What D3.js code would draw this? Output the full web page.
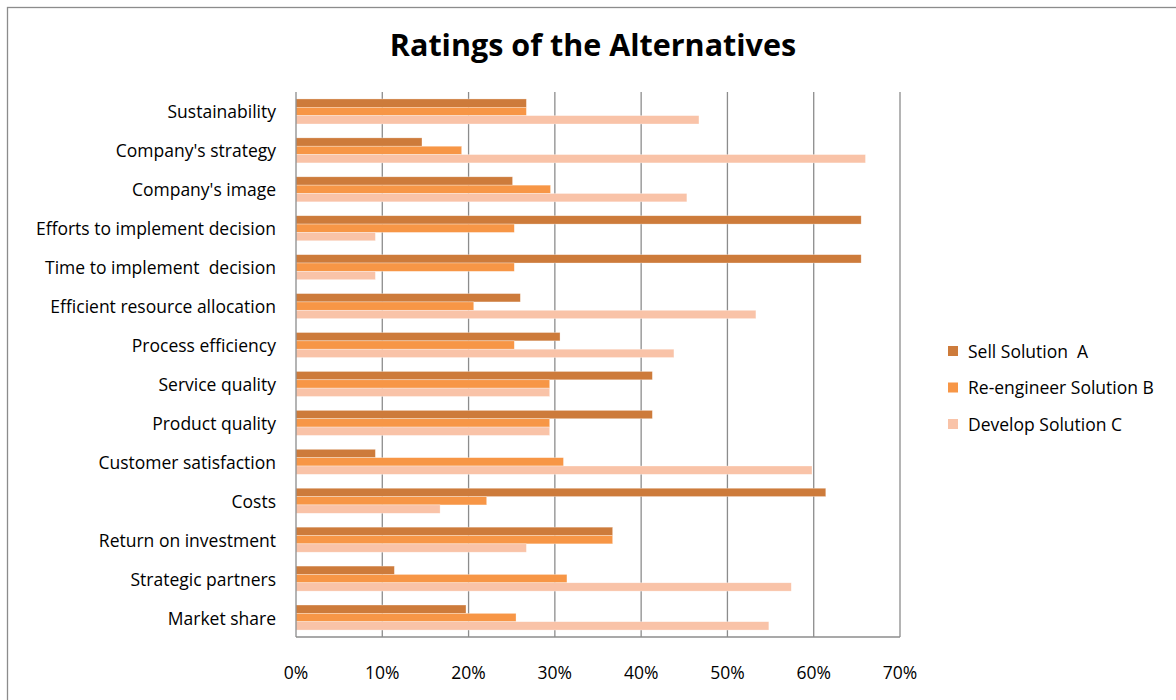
<!DOCTYPE html>
<html>
<head>
<meta charset="utf-8">
<script src="https://cdn.jsdelivr.net/npm/d3@7"></script>
<style>
  body { margin: 0; background: #fff; }
  text { font-family: "Open Sans", sans-serif; fill: #000; white-space: pre; }
</style>
</head>
<body>
<div id="chart"></div>
<script>
// categories, top to bottom
var categories = [
    "Sustainability",
    "Company's strategy",
    "Company's image",
    "Efforts to implement decision",
    "Time to implement  decision",
    "Efficient resource allocation",
    "Process efficiency",
    "Service quality",
    "Product quality",
    "Customer satisfaction",
    "Costs",
    "Return on investment",
    "Strategic partners",
    "Market share"
];
var seriesNames = ["Sell Solution  A", "Re-engineer Solution B", "Develop Solution C"];
var sellA = [26.7, 14.6, 25.1, 65.5, 65.5, 26.0, 30.6, 41.3, 41.3, 9.2, 61.4, 36.7, 11.4, 19.7];
var reengB = [26.7, 19.2, 29.5, 25.3, 25.3, 20.6, 25.3, 29.4, 29.4, 31.0, 22.1, 36.7, 31.4, 25.5];
var developC = [46.7, 66.0, 45.3, 9.2, 9.2, 53.3, 43.8, 29.4, 29.4, 59.8, 16.7, 26.7, 57.4, 54.8];
var xTicks = [0, 10, 20, 30, 40, 50, 60, 70];
var colors = ["#CD7B3B", "#F79646", "#F9C3A8"];

var series = [sellA, reengB, developC];

var width = 1176, height = 700;
var plotLeft = 296, plotRight = 900, plotTop = 92, plotBottom = 637;

var svg = d3.select("#chart").append("svg")
    .attr("width", width)
    .attr("height", height);

// outer frame
svg.append("rect")
    .attr("x", 7.5).attr("y", 7.5)
    .attr("width", 1200).attr("height", 800)
    .attr("fill", "#fff")
    .attr("stroke", "#8c8c8c")
    .attr("stroke-width", 1.3);

svg.append("text")
    .attr("x", 593).attr("y", 56)
    .attr("text-anchor", "middle")
    .style("font-size", "30.5px")
    .style("font-weight", "bold")
    .text("Ratings of the Alternatives");

var x = d3.scaleLinear().domain([0, 70]).range([plotLeft, plotRight]);
var y = d3.scaleBand().domain(categories).range([plotTop, plotBottom]).paddingInner(0.357).paddingOuter(0.1785);
var ySub = d3.scaleBand().domain([0, 1, 2]).range([0, y.bandwidth()]);

// gridlines
svg.append("g").selectAll("line")
    .data(xTicks.slice(1))
    .enter().append("line")
    .attr("x1", function (d) { return x(d); })
    .attr("x2", function (d) { return x(d); })
    .attr("y1", plotTop).attr("y2", plotBottom)
    .attr("stroke", "#8c8c8c")
    .attr("stroke-width", 1.3);

// bars
var group = svg.append("g").selectAll("g")
    .data(categories)
    .enter().append("g")
    .attr("transform", function (d) { return "translate(0," + y(d) + ")"; });

group.selectAll("rect")
    .data(function (d, i) {
        return series.map(function (s, k) { return {k: k, v: s[i]}; });
    })
    .enter().append("rect")
    .attr("x", x(0))
    .attr("y", function (d) { return ySub(d.k); })
    .attr("width", function (d) { return x(d.v) - x(0); })
    .attr("height", ySub.bandwidth())
    .attr("fill", function (d) { return colors[d.k]; })
    .attr("stroke", "#fff")
    .attr("stroke-opacity", 0.5)
    .attr("stroke-width", 0.6);

// axes lines
svg.append("line")
    .attr("x1", plotLeft).attr("x2", plotLeft).attr("y1", plotTop).attr("y2", plotBottom)
    .attr("stroke", "#8c8c8c").attr("stroke-width", 1.3);
svg.append("line")
    .attr("x1", plotLeft).attr("x2", plotRight).attr("y1", plotBottom).attr("y2", plotBottom)
    .attr("stroke", "#8c8c8c").attr("stroke-width", 1.3);

// category labels
svg.append("g").selectAll("text")
    .data(categories)
    .enter().append("text")
    .attr("x", 276)
    .attr("y", function (d) { return y(d) + y.bandwidth() / 2 + 7; })
    .attr("text-anchor", "end")
    .style("font-size", "17.5px")
    .text(function (d) { return d; });

// x tick labels
svg.append("g").selectAll("text")
    .data(xTicks)
    .enter().append("text")
    .attr("x", function (d) { return x(d); })
    .attr("y", 679)
    .attr("text-anchor", "middle")
    .style("font-size", "17.5px")
    .text(function (d) { return d + "%"; });

// legend
var legend = svg.append("g").selectAll("g")
    .data(seriesNames)
    .enter().append("g")
    .attr("transform", function (d, i) { return "translate(948," + (351 + i * 36.5) + ")"; });
legend.append("rect")
    .attr("x", 0).attr("y", -5)
    .attr("width", 10).attr("height", 10)
    .attr("fill", function (d, i) { return colors[i]; });
legend.append("text")
    .attr("x", 20).attr("y", 6.5)
    .style("font-size", "17.5px")
    .text(function (d) { return d; });
</script>
</body>
</html>
